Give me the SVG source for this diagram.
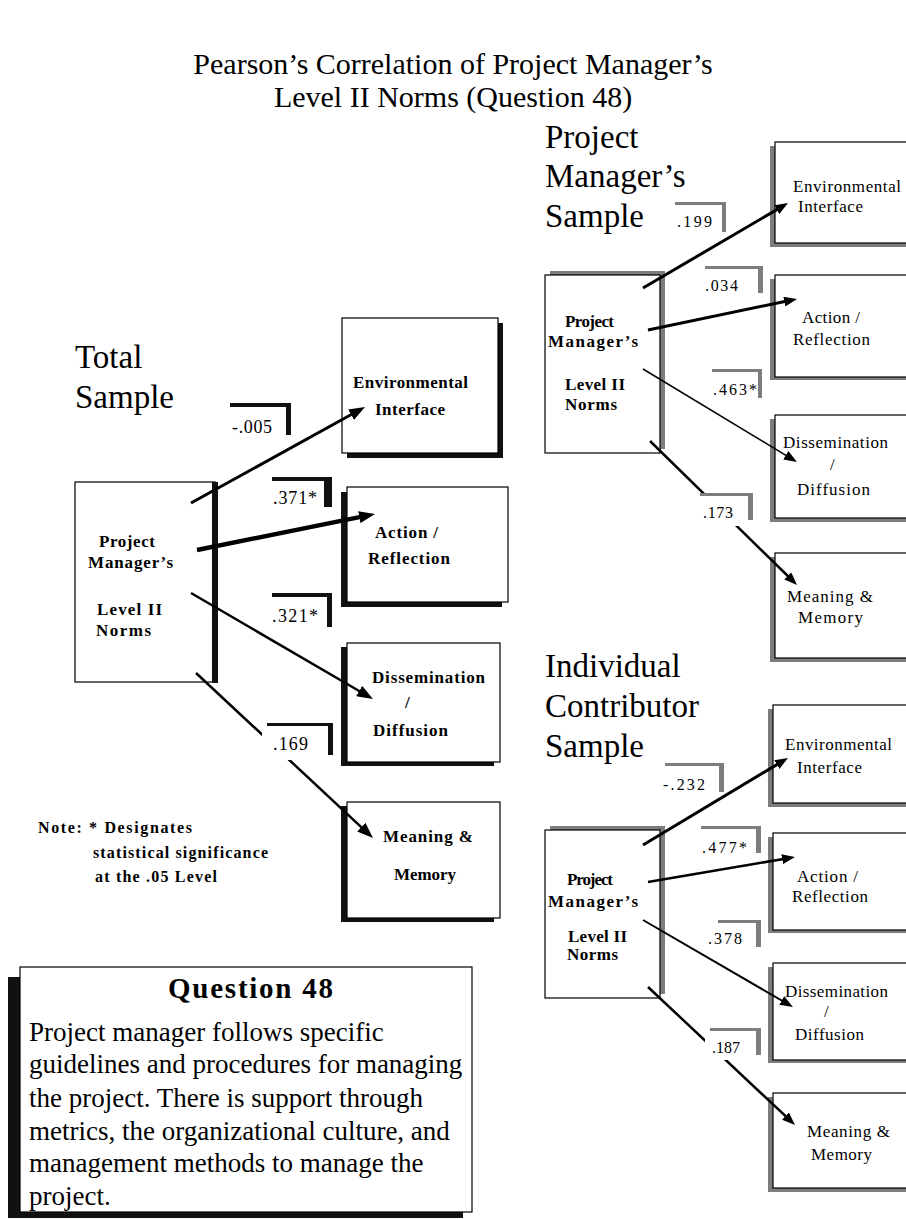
<svg xmlns="http://www.w3.org/2000/svg" width="906" height="1219" viewBox="0 0 906 1219">
<style>
text { font-family: "Liberation Serif", "Times New Roman", serif; fill: #000; }
.title { font-size: 30px; text-anchor: middle; }
.h { font-size: 33px; }
.nb { font-size: 17px; font-weight: bold; }
.nbr { font-size: 17px; font-weight: bold; }
.nr { font-size: 17px; }
.lb { font-size: 18px; }
.lr { font-size: 16px; }
.note { font-size: 16px; font-weight: bold; }
.q { font-size: 27px; }
.qh { font-size: 29px; font-weight: bold; }
.box { fill: #fff; stroke: #000; stroke-width: 1.2; }
.shd { fill: #111; }
.shg { fill: #7d7d7d; }
.lbl { fill: #fff; }
.cn { stroke: #000; fill: none; stroke-linecap: butt; }
</style>
<defs>
<marker id="ab" viewBox="0 0 16 12" markerWidth="16" markerHeight="12" refX="4" refY="6" orient="auto" markerUnits="userSpaceOnUse"><path d="M0,0 L16,6 L0,12 z" fill="#000"/></marker>
<marker id="as" viewBox="0 0 13 10" markerWidth="13" markerHeight="10" refX="3" refY="5" orient="auto" markerUnits="userSpaceOnUse"><path d="M0,0 L13,5 L0,10 z" fill="#000"/></marker>
</defs>
<rect width="906" height="1219" fill="#fff"/>

<g id="title">
<text class="title" x="453" y="74">Pearson’s Correlation of Project Manager’s</text>
<text class="title" x="453" y="107">Level II Norms (Question 48)</text>
</g>

<g id="heading-total"><text class="h" x="75" y="368">Total</text><text class="h" x="75" y="408">Sample</text></g>
<g id="heading-pm"><text class="h" x="545" y="148">Project</text><text class="h" x="545" y="187">Manager’s</text><text class="h" x="545" y="227">Sample</text></g>
<g id="heading-ic"><text class="h" x="545" y="677">Individual</text><text class="h" x="545" y="717">Contributor</text><text class="h" x="545" y="757">Sample</text></g>

<!-- Total sample nodes -->
<g id="total-pm">
<rect class="box" x="75" y="482" width="140" height="200"/>
<rect class="shd" x="212" y="482" width="6" height="201"/>
<text class="nb" x="99" y="547" textLength="56">Project</text>
<text class="nb" x="88" y="568" textLength="85">Manager’s</text>
<text class="nb" x="97" y="615" textLength="65">Level II</text>
<text class="nb" x="96" y="636" textLength="55">Norms</text>
</g>
<g id="total-env">
<rect class="shd" x="347" y="323" width="156" height="135"/>
<rect class="box" x="342" y="318" width="156" height="135"/>
<text class="nb" x="353" y="388" textLength="115">Environmental</text>
<text class="nb" x="375" y="415" textLength="70">Interface</text>
</g>
<g id="total-action">
<rect class="shd" x="341" y="492" width="161" height="115"/>
<rect class="box" x="347" y="487" width="161" height="115"/>
<text class="nb" x="375" y="538" textLength="63">Action /</text>
<text class="nb" x="368" y="564" textLength="82">Reflection</text>
</g>
<g id="total-diss">
<rect class="shd" x="341" y="647" width="153" height="119"/>
<rect class="box" x="347" y="643" width="153" height="119"/>
<text class="nb" x="372" y="683" textLength="113">Dissemination</text>
<text class="nb" x="405" y="708">/</text>
<text class="nb" x="373" y="736" textLength="75">Diffusion</text>
</g>
<g id="total-mean">
<rect class="shd" x="341" y="806" width="153" height="116"/>
<rect class="box" x="347" y="802" width="153" height="116"/>
<text class="nb" x="383" y="842" textLength="90">Meaning &amp;</text>
<text class="nb" x="394" y="880" textLength="62">Memory</text>
</g>

<!-- PM sample nodes -->
<g id="pm-pm">
<rect class="shg" x="550" y="271" width="115" height="178"/>
<rect class="box" x="545" y="275" width="115" height="178"/>
<text class="nbr" x="565" y="327" textLength="49">Project</text>
<text class="nbr" x="548" y="347" textLength="90">Manager’s</text>
<text class="nbr" x="565" y="390" textLength="60">Level II</text>
<text class="nbr" x="565" y="410" textLength="52">Norms</text>
</g>
<g id="pm-env">
<rect class="shg" x="770" y="146" width="142" height="101"/>
<rect class="box" x="775" y="142" width="142" height="101"/>
<text class="nr" x="793" y="192" textLength="108">Environmental</text>
<text class="nr" x="798" y="212" textLength="65">Interface</text>
</g>
<g id="pm-action">
<rect class="shg" x="770" y="279" width="142" height="101"/>
<rect class="box" x="775" y="275" width="142" height="102"/>
<text class="nr" x="802" y="323" textLength="58">Action /</text>
<text class="nr" x="793" y="345" textLength="77">Reflection</text>
</g>
<g id="pm-diss">
<rect class="shg" x="770" y="419" width="142" height="103"/>
<rect class="box" x="775" y="415" width="142" height="103"/>
<text class="nr" x="783" y="448" textLength="105">Dissemination</text>
<text class="nr" x="830" y="470">/</text>
<text class="nr" x="797" y="495" textLength="73">Diffusion</text>
</g>
<g id="pm-mean">
<rect class="shg" x="770" y="557" width="142" height="105"/>
<rect class="box" x="775" y="553" width="142" height="105"/>
<text class="nr" x="787" y="602" textLength="86">Meaning &amp;</text>
<text class="nr" x="798" y="623" textLength="65">Memory</text>
</g>

<!-- IC sample nodes -->
<g id="ic-pm">
<rect class="shg" x="550" y="826" width="115" height="168"/>
<rect class="box" x="545" y="830" width="115" height="168"/>
<text class="nbr" x="567" y="885" textLength="46">Project</text>
<text class="nbr" x="548" y="907" textLength="90">Manager’s</text>
<text class="nbr" x="568" y="942" textLength="59">Level II</text>
<text class="nbr" x="567" y="960" textLength="51">Norms</text>
</g>
<g id="ic-env">
<rect class="shg" x="768" y="709" width="144" height="98"/>
<rect class="box" x="773" y="705" width="144" height="98"/>
<text class="nr" x="785" y="750" textLength="107">Environmental</text>
<text class="nr" x="797" y="773" textLength="65">Interface</text>
</g>
<g id="ic-action">
<rect class="shg" x="768" y="837" width="144" height="96"/>
<rect class="box" x="773" y="833" width="144" height="97"/>
<text class="nr" x="797" y="882" textLength="61">Action /</text>
<text class="nr" x="792" y="902" textLength="76">Reflection</text>
</g>
<g id="ic-diss">
<rect class="shg" x="768" y="967" width="144" height="96"/>
<rect class="box" x="773" y="963" width="144" height="97"/>
<text class="nr" x="785" y="997" textLength="103">Dissemination</text>
<text class="nr" x="824" y="1017">/</text>
<text class="nr" x="795" y="1040" textLength="69">Diffusion</text>
</g>
<g id="ic-mean">
<rect class="shg" x="768" y="1097" width="144" height="95"/>
<rect class="box" x="773" y="1093" width="144" height="95"/>
<text class="nr" x="807" y="1137" textLength="83">Meaning &amp;</text>
<text class="nr" x="811" y="1160" textLength="61">Memory</text>
</g>

<!-- connectors -->
<g id="connectors">
<line class="cn" x1="191" y1="503" x2="354.5" y2="412.8" stroke-width="3" marker-end="url(#ab)"/>
<line class="cn" x1="197" y1="550" x2="363.2" y2="516.4" stroke-width="4.5" marker-end="url(#ab)"/>
<line class="cn" x1="191" y1="593" x2="362.6" y2="693" stroke-width="2.5" marker-end="url(#ab)"/>
<line class="cn" x1="196" y1="673" x2="364.2" y2="829.8" stroke-width="2.5" marker-end="url(#ab)"/>

<line class="cn" x1="643" y1="288" x2="779.4" y2="208.1" stroke-width="3" marker-end="url(#as)"/>
<line class="cn" x1="648" y1="330" x2="787.2" y2="301" stroke-width="3" marker-end="url(#as)"/>
<line class="cn" x1="643" y1="369" x2="788.4" y2="456.8" stroke-width="1.5" marker-end="url(#as)"/>
<line class="cn" x1="650" y1="441" x2="789.9" y2="578" stroke-width="2.5" marker-end="url(#as)"/>

<line class="cn" x1="643" y1="845" x2="779.4" y2="763.1" stroke-width="3" marker-end="url(#as)"/>
<line class="cn" x1="648" y1="882" x2="785.1" y2="858.7" stroke-width="2.5" marker-end="url(#as)"/>
<line class="cn" x1="643" y1="920" x2="784.3" y2="1002" stroke-width="2" marker-end="url(#as)"/>
<line class="cn" x1="648" y1="987" x2="787.7" y2="1118.2" stroke-width="2.5" marker-end="url(#as)"/>
</g>

<!-- correlation labels -->
<g id="label-total-env"><rect class="shd" x="230" y="403" width="61" height="32"/><rect class="lbl" x="225" y="407" width="61" height="32"/><text class="lb" x="232" y="433" textLength="40">-.005</text></g>
<g id="label-total-action"><rect class="shd" x="272" y="477" width="60" height="30"/><rect class="lbl" x="264" y="481" width="60" height="30"/><text class="lb" x="273" y="504" textLength="44">.371*</text></g>
<g id="label-total-diss"><rect class="shd" x="272" y="593" width="60" height="34"/><rect class="lbl" x="267" y="597" width="60" height="34"/><text class="lb" x="272" y="622" textLength="46">.321*</text></g>
<g id="label-total-mean"><rect class="shd" x="267" y="723" width="66" height="32"/><rect class="lbl" x="262" y="726" width="66" height="34"/><text class="lb" x="273" y="750" textLength="35">.169</text></g>

<g id="label-pm-env"><rect class="shg" x="675" y="202" width="51" height="30"/><rect class="lbl" x="671" y="205" width="51" height="30"/><text class="lr" x="677" y="227" textLength="35">.199</text></g>
<g id="label-pm-action"><rect class="shg" x="705" y="266" width="58" height="27"/><rect class="lbl" x="700" y="269" width="58" height="27"/><text class="lr" x="705" y="291" textLength="33">.034</text></g>
<g id="label-pm-diss"><rect class="shg" x="712" y="369" width="50" height="29"/><rect class="lbl" x="708" y="372" width="50" height="29"/><text class="lr" x="713" y="395" textLength="44">.463*</text></g>
<g id="label-pm-mean"><rect class="shg" x="700" y="493" width="53" height="27"/><rect class="lbl" x="696" y="496" width="52" height="30"/><text class="lr" x="703" y="518" textLength="30">.173</text></g>

<g id="label-ic-env"><rect class="shg" x="665" y="763" width="59" height="29"/><rect class="lbl" x="660" y="766" width="59" height="29"/><text class="lr" x="663" y="790" textLength="42">-.232</text></g>
<g id="label-ic-action"><rect class="shg" x="701" y="826" width="60" height="27"/><rect class="lbl" x="696" y="829" width="60" height="27"/><text class="lr" x="702" y="853" textLength="45">.477*</text></g>
<g id="label-ic-diss"><rect class="shg" x="718" y="920" width="43" height="27"/><rect class="lbl" x="705" y="923" width="51" height="27"/><text class="lr" x="708" y="944" textLength="34">.378</text></g>
<g id="label-ic-mean"><rect class="shg" x="710" y="1028" width="51" height="27"/><rect class="lbl" x="705" y="1031" width="51" height="29"/><text class="lr" x="712" y="1053" textLength="28">.187</text></g>

<g id="note">
<text class="note" x="38" y="833" textLength="154">Note: * Designates</text>
<text class="note" x="93" y="858" textLength="175">statistical significance</text>
<text class="note" x="95" y="882" textLength="122">at the .05 Level</text>
</g>

<g id="question">
<rect class="shd" x="8" y="977" width="455" height="241"/>
<rect class="box" x="20" y="967" width="452" height="245"/>
<text class="qh" x="168" y="998" textLength="165">Question 48</text>
<text class="q" x="29" y="1041">Project manager follows specific</text>
<text class="q" x="29" y="1073">guidelines and procedures for managing</text>
<text class="q" x="29" y="1107">the project.  There is support through</text>
<text class="q" x="29" y="1140">metrics, the organizational culture, and</text>
<text class="q" x="29" y="1172">management methods to manage the</text>
<text class="q" x="29" y="1205">project.</text>
</g>
</svg>
